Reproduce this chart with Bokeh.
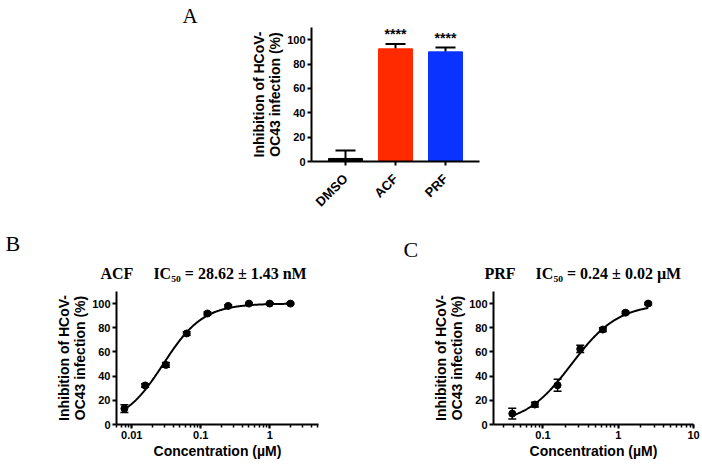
import math
import numpy as np
from bokeh.plotting import figure
from bokeh.models import (ColumnDataSource, Whisker, TeeHead, SingleIntervalTicker,
                          FixedTicker, Range1d, CustomJSTickFormatter, Title)
from bokeh.layouts import column, row
from bokeh.embed import file_html
from bokeh.resources import INLINE
from bokeh.core.properties import value

# ---------------- data ----------------
# Panel A: inhibition at single dose
groups = ["DMSO", "ACF", "PRF"]
group_mean = [2.5, 92.5, 90.0]
group_err = [6.5, 4.0, 3.5]
group_colors = ["#000000", "#ff2a00", "#0a33ff"]
group_stars = ["", "****", "****"]

# Panel B: ACF dose response
acf_conc = [0.0078125, 0.015625, 0.03125, 0.0625, 0.125, 0.25, 0.5, 1.0, 2.0]
acf_inhib = [13.2, 32.3, 49.3, 75.3, 91.8, 98.1, 100.0, 100.0, 100.0]
acf_err = [3.2, 1.5, 2.0, 1.5, 1.2, 1.0, 0.6, 0.6, 0.6]
acf_fit = dict(bottom=0.0, top=100.0, ic50=0.02862, hill=1.5)

# Panel C: PRF dose response
prf_conc = [0.0390625, 0.078125, 0.15625, 0.3125, 0.625, 1.25, 2.5]
prf_inhib = [9.0, 16.5, 32.5, 62.5, 78.5, 92.5, 100.0]
prf_err = [4.5, 2.0, 5.0, 3.0, 1.5, 1.0, 1.0]
prf_fit = dict(bottom=0.0, top=100.0, ic50=0.24, hill=1.4)

y_label = "Inhibition of HCoV-\nOC43 infection (%)"
x_label = "Concentration (\u00b5M)"
panel_letters = ["A", "B", "C"]
NB = "\u00a0"
titles = ["ACF" + NB * 5 + "IC\u2085\u2080 = 28.62 \u00b1 1.43 nM",
          "PRF" + NB * 5 + "IC\u2085\u2080 = 0.24 \u00b1 0.02 \u00b5M"]

SANS = "Liberation Sans"
SERIF = "Liberation Serif"


def style(p):
    p.outline_line_color = None
    p.xgrid.visible = False
    p.ygrid.visible = False
    p.background_fill_color = "white"
    p.border_fill_color = "white"
    for ax in p.axis:
        ax.axis_line_width = 2
        ax.axis_line_color = "black"
        ax.major_tick_line_width = 2
        ax.major_tick_line_color = "black"
        ax.major_tick_out = 4
        ax.major_tick_in = 0
        ax.minor_tick_line_width = 1.5
        ax.minor_tick_line_color = "black"
        ax.minor_tick_out = 3
        ax.minor_tick_in = 0
        ax.major_label_text_font = SANS
        ax.major_label_text_font_style = "bold"
        ax.major_label_text_font_size = "11px"
        ax.major_label_text_color = "black"
        ax.major_label_standoff = 2
        ax.axis_label_text_font = SANS
        ax.axis_label_text_font_style = "bold"
        ax.axis_label_text_font_size = "14px"
        ax.axis_label_text_color = "black"
        ax.axis_label_text_line_height = 1.0
        ax.axis_label_standoff = 1


def add_title(p, text, offset, size, bold, standoff):
    p.add_layout(Title(text=text, align="left", offset=offset, standoff=standoff,
                       text_font=SERIF, text_font_size=size,
                       text_font_style="bold" if bold else "normal",
                       text_color="black"), "above")


# ---------------- panel A ----------------
xs = list(range(len(groups)))
srcA = ColumnDataSource(dict(
    x=xs, mean=group_mean, upper=[m + e for m, e in zip(group_mean, group_err)],
    color=group_colors, stars=group_stars))

pA = figure(width=700, height=230, x_range=Range1d(-0.68, 2.68), y_range=Range1d(0, 110),
            title=None, output_backend="svg", toolbar_location=None,
            min_border_left=311, min_border_right=221, min_border_top=27, min_border_bottom=69)
pA.vbar(x="x", top="mean", width=0.68, fill_color="color", line_color="color", source=srcA)
pA.add_layout(Whisker(base="x", lower="mean", upper="upper", source=srcA, dimension="height",
                      line_width=2, line_color="black",
                      upper_head=TeeHead(size=20, line_width=2, line_color="black"),
                      lower_head=None))
pA.text(x="x", y="upper", text="stars", source=srcA, text_align="center",
        text_baseline="bottom", y_offset=-2, text_font=value(SANS), text_font_style="bold",
        text_font_size="14px", text_color="black")
style(pA)
pA.xaxis.ticker = FixedTicker(ticks=xs)
pA.xaxis.major_label_overrides = {i: g for i, g in zip(xs, groups)}
pA.xaxis.major_label_orientation = math.pi / 4
pA.xaxis.major_label_text_font_size = "13px"
pA.xaxis.major_label_standoff = 11
pA.yaxis.ticker = SingleIntervalTicker(interval=20, num_minor_ticks=0)
pA.yaxis.axis_label = y_label
add_title(pA, panel_letters[0], -129, "21px", False, 0)


# ---------------- dose-response panels ----------------
def dose_panel(conc, inhib, err, fit, xr, w, left, right):
    src = ColumnDataSource(dict(x=conc, y=inhib,
                                lo=[a - b for a, b in zip(inhib, err)],
                                hi=[a + b for a, b in zip(inhib, err)]))
    p = figure(width=w, height=240, x_axis_type="log", x_range=Range1d(*xr),
               y_range=Range1d(0, 110), title=None, output_backend="svg",
               toolbar_location=None, min_border_left=left, min_border_right=right,
               min_border_top=61, min_border_bottom=46)
    xf = np.geomspace(min(conc), max(conc), 300)
    yf = fit["bottom"] + (fit["top"] - fit["bottom"]) / (1.0 + (fit["ic50"] / xf) ** fit["hill"])
    p.line(xf, yf, line_color="black", line_width=2)
    p.add_layout(Whisker(base="x", lower="lo", upper="hi", source=src, dimension="height",
                         line_width=1.5, line_color="black",
                         upper_head=TeeHead(size=8, line_width=1.5, line_color="black"),
                         lower_head=TeeHead(size=8, line_width=1.5, line_color="black")))
    p.scatter(x="x", y="y", source=src, size=7, marker="circle",
              fill_color="black", line_color="black")
    style(p)
    p.yaxis.ticker = SingleIntervalTicker(interval=20, num_minor_ticks=0)
    p.yaxis.axis_label = y_label
    p.xaxis.axis_label = x_label
    p.xaxis.formatter = CustomJSTickFormatter(code="return String(Number(tick.toPrecision(6)));")
    return p


pB = dose_panel(acf_conc, acf_inhib, acf_err, acf_fit, (0.006, 5.1), 351, 116, 33)
add_title(pB, titles[0], -16, "16px", True, 19)
add_title(pB, panel_letters[1], -111, "22px", False, -5)

pC = dose_panel(prf_conc, prf_inhib, prf_err, prf_fit, (0.022, 10.0), 349, 142, 7)
add_title(pC, titles[1], -9, "16px", True, 19)
add_title(pC, panel_letters[2], -90, "22px", False, -17)

layout = column(pA, row(pB, pC))
open("out.html", "w").write(file_html(layout, INLINE))
